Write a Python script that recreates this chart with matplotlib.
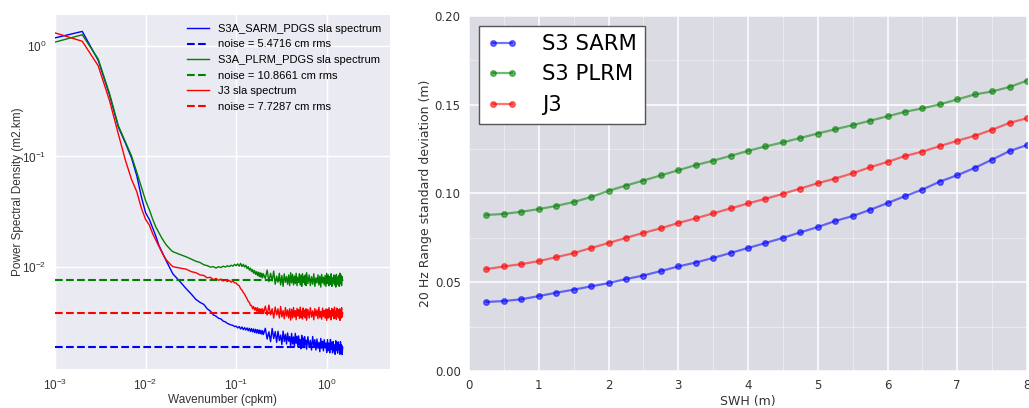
import numpy as np
import matplotlib
matplotlib.use('Agg')
import matplotlib.pyplot as plt
from matplotlib.ticker import MultipleLocator

plt.rcParams['mathtext.fontset'] = 'custom'
plt.rcParams['mathtext.rm'] = 'Liberation Sans'
plt.rcParams['mathtext.default'] = 'regular'

# ---- sea level anomaly spectra -------------------------------------------
# wavenumber grid (cpkm): 0.001 steps at low k, then coarser
k_low = np.arange(1, 21) * 0.001
k_mid = np.arange(24, 201, 4) * 0.001
k_high1 = np.arange(21, 61) * 0.01
k_high2 = np.arange(62, 151, 2) * 0.01
wavenumber = np.concatenate([k_low, k_mid, k_high1, k_high2])

sarm_psd = [
    # 0.001 - 0.020
    1.18, 1.35, 0.74, 0.36, 0.185, 0.132, 0.097, 0.067, 0.043, 0.031,
    0.027, 0.0225, 0.019, 0.0158, 0.0140, 0.0125, 0.0113, 0.0103, 0.0094, 0.0087,
    # 0.024 - 0.200
    0.0074, 0.0064, 0.0057, 0.0051, 0.0048, 0.0046, 0.0042, 0.0040, 0.0037, 0.0036,
    0.00345, 0.0034, 0.00325, 0.0032, 0.0031, 0.00305, 0.0030, 0.00298, 0.0029, 0.00293,
    0.00282, 0.00290, 0.00276, 0.00288, 0.00272, 0.00284, 0.00270, 0.00282, 0.00266, 0.00280,
    0.00262, 0.00278, 0.00260, 0.00276, 0.00256, 0.00274, 0.00254, 0.00272, 0.00252, 0.00270,
    0.00250, 0.00268, 0.00248, 0.00266, 0.00246,
    # 0.21 - 0.60
    0.00280, 0.00224, 0.00260, 0.00212, 0.00279, 0.00226, 0.00261, 0.00209, 0.00263, 0.00217,
    0.00243, 0.00200, 0.00264, 0.00213, 0.00247, 0.00202, 0.00254, 0.00214, 0.00236, 0.00194,
    0.00252, 0.00202, 0.00234, 0.00191, 0.00252, 0.00205, 0.00237, 0.00190, 0.00239, 0.00197,
    0.00221, 0.00183, 0.00242, 0.00197, 0.00228, 0.00187, 0.00235, 0.00199, 0.00219, 0.00181,
    # 0.62 - 1.50
    0.00235, 0.00188, 0.00218, 0.00178, 0.00236, 0.00192, 0.00221, 0.00178, 0.00224, 0.00185,
    0.00209, 0.00172, 0.00227, 0.00185, 0.00214, 0.00175, 0.00221, 0.00186, 0.00206, 0.00169,
    0.00221, 0.00176, 0.00206, 0.00168, 0.00222, 0.00180, 0.00210, 0.00168, 0.00212, 0.00175,
    0.00198, 0.00163, 0.00216, 0.00176, 0.00204, 0.00167, 0.00211, 0.00179, 0.00198, 0.00163,
    0.00212, 0.00170, 0.00198, 0.00162, 0.00188,
]
plrm_psd = [
    1.08, 1.26, 0.76, 0.37, 0.19, 0.135, 0.101, 0.072, 0.053, 0.040,
    0.033, 0.027, 0.023, 0.0205, 0.0185, 0.0170, 0.0158, 0.0150, 0.0143, 0.0138,
    0.0130, 0.0124, 0.0118, 0.0113, 0.0110, 0.0105, 0.0103, 0.0100, 0.0101, 0.0098,
    0.0101, 0.0099, 0.0102, 0.0100, 0.0103, 0.0101, 0.0104, 0.0102, 0.0106, 0.0103,
    0.0107, 0.0102, 0.0108, 0.0101, 0.0106, 0.0100, 0.0104, 0.0097, 0.0101, 0.0094,
    0.0098, 0.0091, 0.0095, 0.0088, 0.0093, 0.0086, 0.0091, 0.0084, 0.0090, 0.0082,
    0.0089, 0.0081, 0.0088, 0.0080, 0.0087,
    0.0079, 0.0094, 0.0074, 0.0088, 0.0075, 0.0092, 0.0070, 0.0083, 0.0073, 0.0088,
    0.0069, 0.0084, 0.0067, 0.0087, 0.0073, 0.0082, 0.0070, 0.0085, 0.0068, 0.0089,
    0.0072, 0.0086, 0.0069, 0.0083, 0.0071, 0.0088, 0.0068, 0.0081, 0.0073, 0.0087,
    0.0069, 0.0084, 0.0067, 0.0087, 0.0073, 0.0082, 0.0070, 0.0085, 0.0068, 0.0089,
    0.0071, 0.0085, 0.0068, 0.0082, 0.0070, 0.0087, 0.0067, 0.0080, 0.0072, 0.0085,
    0.0069, 0.0083, 0.0066, 0.0086, 0.0072, 0.0081, 0.0069, 0.0084, 0.0067, 0.0088,
    0.0071, 0.0085, 0.0068, 0.0082, 0.0070, 0.0087, 0.0067, 0.0080, 0.0072, 0.0085,
    0.0069, 0.0083, 0.0066, 0.0086, 0.0072, 0.0081, 0.0069, 0.0084, 0.0067, 0.0088,
    0.0071, 0.0085, 0.0068, 0.0082, 0.0076,
]
j3_psd = [
    1.31, 1.10, 0.66, 0.32, 0.160, 0.092, 0.062, 0.048, 0.034, 0.027,
    0.024, 0.020, 0.0175, 0.0155, 0.0138, 0.0125, 0.0116, 0.0110, 0.0105, 0.0101,
    0.0098, 0.0096, 0.0091, 0.0089, 0.0085, 0.0084, 0.0080, 0.0081, 0.0077, 0.0079,
    0.0076, 0.0078, 0.0075, 0.0077, 0.0074, 0.0076, 0.0073, 0.0075, 0.0072, 0.0072,
    0.0069, 0.0068, 0.0064, 0.0062, 0.0059, 0.0057, 0.0054, 0.0052, 0.0049, 0.0048,
    0.0045, 0.0045, 0.0042, 0.0044, 0.0041, 0.0043, 0.0040, 0.0043, 0.0039, 0.0042,
    0.0039, 0.0042, 0.0038, 0.0042, 0.0038,
    0.00443, 0.00369, 0.00454, 0.00371, 0.00420, 0.00346, 0.00436, 0.00370, 0.00419, 0.00347,
    0.00441, 0.00354, 0.00405, 0.00341, 0.00431, 0.00360, 0.00410, 0.00347, 0.00421, 0.00332,
    0.00416, 0.00347, 0.00431, 0.00354, 0.00404, 0.00335, 0.00424, 0.00362, 0.00412, 0.00343,
    0.00435, 0.00350, 0.00400, 0.00339, 0.00427, 0.00358, 0.00408, 0.00347, 0.00420, 0.00331,
    0.00415, 0.00346, 0.00430, 0.00353, 0.00403, 0.00334, 0.00422, 0.00361, 0.00411, 0.00342,
    0.00434, 0.00349, 0.00399, 0.00338, 0.00426, 0.00357, 0.00407, 0.00346, 0.00419, 0.00330,
    0.00415, 0.00346, 0.00430, 0.00353, 0.00403, 0.00334, 0.00422, 0.00361, 0.00411, 0.00342,
    0.00434, 0.00349, 0.00399, 0.00338, 0.00426, 0.00357, 0.00407, 0.00346, 0.00419, 0.00330,
    0.00415, 0.00346, 0.00430, 0.00353, 0.00385,
]

# white noise plateau levels (m2.km) and the rms they correspond to (cm)
noise_level = [0.00191, 0.00757, 0.00384]
noise_rms = [5.4716, 10.8661, 7.7287]
spec_names = ['S3A_SARM_PDGS', 'S3A_PLRM_PDGS', 'J3']

# ---- 20 Hz range noise vs SWH --------------------------------------------
swh = np.arange(1, 33) * 0.25
std_sarm = [0.0389, 0.0394, 0.0404, 0.0422, 0.0441, 0.0458, 0.0477, 0.0495,
            0.0518, 0.0538, 0.0563, 0.0589, 0.0611, 0.0637, 0.0665, 0.0693,
            0.0721, 0.0750, 0.0781, 0.0811, 0.0845, 0.0873, 0.0908, 0.0946,
            0.0985, 0.1022, 0.1067, 0.1103, 0.1144, 0.1191, 0.1239, 0.1273]
std_plrm = [0.0879, 0.0885, 0.0897, 0.0912, 0.0930, 0.0952, 0.0980, 0.1015,
            0.1045, 0.1073, 0.1102, 0.1131, 0.1160, 0.1185, 0.1212, 0.1240,
            0.1265, 0.1288, 0.1313, 0.1338, 0.1362, 0.1385, 0.1410, 0.1435,
            0.1460, 0.1480, 0.1502, 0.1530, 0.1558, 0.1575, 0.1600, 0.1636]
std_j3 = [0.0574, 0.0589, 0.0602, 0.0619, 0.0641, 0.0664, 0.0693, 0.0721,
          0.0750, 0.0778, 0.0804, 0.0834, 0.0860, 0.0888, 0.0916, 0.0944,
          0.0970, 0.0998, 0.1028, 0.1058, 0.1084, 0.1114, 0.1148, 0.1178,
          0.1211, 0.1236, 0.1267, 0.1297, 0.1325, 0.1359, 0.1398, 0.1424]

fig = plt.figure(figsize=(10.29, 4.08), dpi=100)

# left: spectra, log-log
ax1 = fig.add_axes([55/1029, 39/408, 335/1029, 354/408])
ax1.set_facecolor('#EAEAF2')
colors = ['b', 'g', 'r']
for psd, lev, rms, name, c in zip([sarm_psd, plrm_psd, j3_psd], noise_level,
                                  noise_rms, spec_names, colors):
    ax1.plot(wavenumber, psd, color=c, lw=1.0, label=name + ' sla spectrum')
    ax1.plot([wavenumber[0], wavenumber[-1]], [lev, lev], '--', color=c, lw=1.5,
             label='noise = %.4f cm rms' % rms)
ax1.set_xscale('log')
ax1.set_yscale('log')
ax1.set_xlim(1e-3, 5)
ax1.set_ylim(1.2e-3, 1.9)
ax1.grid(True, which='major', color='white', lw=1.0)
ax1.set_axisbelow(True)
for s in ax1.spines.values():
    s.set_visible(False)
ax1.tick_params(which='both', length=0, labelsize=8.5, pad=6, colors='#333333')
for lab in ax1.get_xticklabels() + ax1.get_yticklabels():
    lab.set_family('Liberation Sans')
ax1.set_xlabel('Wavenumber (cpkm)', family='Liberation Sans', fontsize=8.5,
               color='#333333', labelpad=1)
ax1.set_ylabel('Power Spectral Density (m2.km)', family='Liberation Sans',
               fontsize=8.5, color='#333333', labelpad=-1)
leg1 = ax1.legend(loc='upper right', frameon=False, labelspacing=0.5,
                  handlelength=2.0, borderaxespad=0.4,
                  prop={'family': 'Liberation Sans', 'size': 8})

# right: range noise vs SWH
ax2 = fig.add_axes([469/1029, 37/408, 558/1029, 355/408])
ax2.set_facecolor('#DBDBE3')
ax2.plot(swh, std_sarm, 'o-', color='b', alpha=0.55, ms=4, lw=1.6, label='S3 SARM')
ax2.plot(swh, std_plrm, 'o-', color='g', alpha=0.55, ms=4, lw=1.6, label='S3 PLRM')
ax2.plot(swh, std_j3, 'o-', color='r', alpha=0.55, ms=4, lw=1.6, label='J3')
ax2.set_xlim(0, 8)
ax2.set_ylim(0, 0.2)
ax2.xaxis.set_major_locator(MultipleLocator(1))
ax2.xaxis.set_minor_locator(MultipleLocator(0.5))
ax2.yaxis.set_major_locator(MultipleLocator(0.05))
ax2.yaxis.set_minor_locator(MultipleLocator(0.025))
ax2.grid(True, which='major', color='white', lw=1.2, alpha=0.9)
ax2.grid(True, which='minor', color='white', lw=0.8, alpha=0.4)
ax2.set_axisbelow(True)
for s in ax2.spines.values():
    s.set_visible(False)
ax2.tick_params(which='both', length=0, labelsize=8.5, pad=6, colors='#333333')
ax2.set_xlabel('SWH (m)', fontsize=9, color='#333333', labelpad=2)
ax2.set_ylabel('20 Hz Range standard deviation (m)', fontsize=9, color='#333333',
               labelpad=2)
leg2 = ax2.legend(loc='upper left', fontsize=15.2, numpoints=2, fancybox=False,
                  framealpha=1.0, edgecolor='#555555', labelspacing=0.5,
                  handlelength=1.5, handletextpad=1.1, borderaxespad=0.45)
leg2.get_frame().set_linewidth(1.0)

fig.savefig('out.png', dpi=100)
